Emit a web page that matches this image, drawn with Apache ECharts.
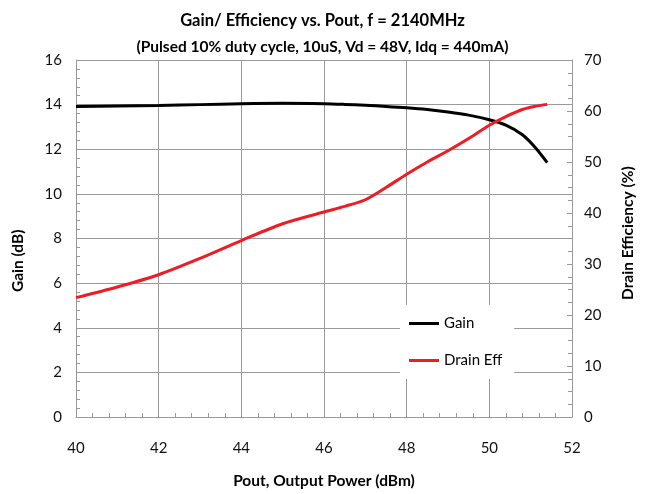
<!DOCTYPE html>
<html>
<head>
<meta charset="utf-8">
<script src="https://cdn.jsdelivr.net/npm/echarts@6/dist/echarts.min.js"></script>
<style>
  html, body { margin: 0; padding: 0; background: #fff; }
  #chart { width: 645px; height: 494px; }
</style>
</head>
<body>
<div id="chart"></div>
<script>
// values
const pout = [40, 41, 42, 43, 44, 45, 46, 46.5, 47, 47.5, 48, 48.5, 49, 49.5, 50, 50.4, 50.8, 51.1, 51.4]
const gain = [13.92, 13.94, 13.96, 14.0, 14.04, 14.06, 14.04, 14.01, 13.97, 13.92, 13.86, 13.78, 13.67, 13.53, 13.32, 13.08, 12.65, 12.1, 11.4]
const drainEff = [23.4, 25.5, 27.9, 31.1, 34.6, 37.9, 40.2, 41.3, 42.6, 45.0, 47.6, 50.0, 52.2, 54.6, 57.2, 58.9, 60.3, 60.9, 61.3]
const seriesNames = ['Gain', 'Drain Eff']
const titleText = 'Gain/ Efficiency vs. Pout, f = 2140MHz'
const subText = '(Pulsed 10% duty cycle, 10uS, Vd = 48V, Idq = 440mA)'

const font = 'Lato, "Open Sans", sans-serif'
const gridColor = '#9a9a9a'

const chart = echarts.init(document.getElementById('chart'))

function pairs(xs, ys) {
  return xs.map((x, i) => [x, ys[i]])
}

const option = {
  animation: false,
  backgroundColor: '#fff',
  textStyle: { fontFamily: font },
  title: [{
    text: titleText,
    left: 'center',
    top: 7,
    textStyle: { fontFamily: font, fontSize: 16.5, fontWeight: 'bold', color: '#000' }
  }, {
    text: subText,
    left: 'center',
    top: 34,
    textStyle: { fontFamily: font, fontSize: 15.5, fontWeight: 'bold', color: '#000' }
  }],
  grid: { left: 76, right: 73, top: 60, bottom: 75 },
  legend: {
    orient: 'vertical',
    left: 400,
    top: 305,
    padding: [11, 12, 11, 9],
    itemGap: 22,
    itemWidth: 30,
    itemHeight: 3,
    icon: 'rect',
    backgroundColor: '#fff',
    textStyle: { fontFamily: font, fontSize: 15, color: '#000' },
    data: seriesNames
  },
  xAxis: {
    type: 'value',
    min: 40,
    max: 52,
    interval: 2,
    name: 'Pout, Output Power (dBm)',
    nameLocation: 'middle',
    nameGap: 56,
    nameTextStyle: { fontFamily: font, fontSize: 15.5, fontWeight: 'bold', color: '#000' },
    axisLine: { show: true, onZero: false, lineStyle: { color: gridColor, width: 1 } },
    axisTick: { show: true, inside: true, length: 5, lineStyle: { color: gridColor } },
    minorTick: { show: true, splitNumber: 5, length: 4, lineStyle: { color: gridColor } },
    axisLabel: { margin: 24, fontSize: 15, color: '#111' },
    splitLine: { show: true, lineStyle: { color: gridColor, width: 1 } }
  },
  yAxis: [{
    type: 'value',
    min: 0,
    max: 16,
    interval: 2,
    axisLine: { show: true, lineStyle: { color: gridColor, width: 1 } },
    axisTick: { show: true, inside: true, length: 5, lineStyle: { color: gridColor } },
    minorTick: { show: true, splitNumber: 5, length: 4, lineStyle: { color: gridColor } },
    axisLabel: { margin: 14, fontSize: 15, color: '#111' },
    splitLine: { show: true, lineStyle: { color: gridColor, width: 1 } }
  }, {
    type: 'value',
    position: 'right',
    min: 0,
    max: 70,
    interval: 10,
    axisLine: { show: true, lineStyle: { color: gridColor, width: 1 } },
    axisTick: { show: true, inside: true, length: 5, lineStyle: { color: gridColor } },
    minorTick: { show: true, splitNumber: 4, length: 4, lineStyle: { color: gridColor } },
    axisLabel: { margin: 12, fontSize: 15, color: '#111' },
    splitLine: { show: false }
  }],
  graphic: [{
    type: 'text',
    rotation: Math.PI / 2,
    x: 10,
    y: 292,
    style: {
      text: 'Gain (dB)',
      fontFamily: font, fontSize: 15.5, fontWeight: 'bold', fill: '#000'
    }
  }, {
    type: 'text',
    rotation: Math.PI / 2,
    x: 620,
    y: 300,
    style: {
      text: 'Drain Efficiency (%)',
      fontFamily: font, fontSize: 15.5, fontWeight: 'bold', fill: '#000'
    }
  }],
  series: [{
    name: seriesNames[0],
    type: 'line',
    yAxisIndex: 0,
    smooth: 0.3,
    symbol: 'none',
    lineStyle: { color: '#000', width: 3 },
    itemStyle: { color: '#000' },
    data: pairs(pout, gain)
  }, {
    name: seriesNames[1],
    type: 'line',
    yAxisIndex: 1,
    smooth: 0.3,
    symbol: 'none',
    lineStyle: { color: '#ee1c24', width: 3 },
    itemStyle: { color: '#ee1c24' },
    data: pairs(pout, drainEff)
  }]
}

chart.setOption(option)
</script>
</body>
</html>
